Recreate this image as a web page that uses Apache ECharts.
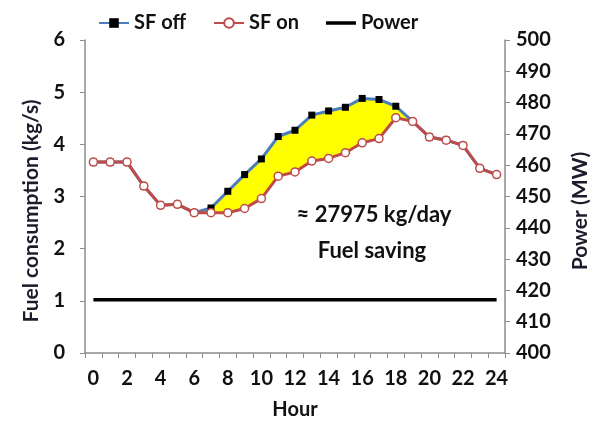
<!DOCTYPE html>
<html>
<head>
    <meta charset="UTF-8">
    <title>Fuel consumption</title>
    <script src="https://cdn.jsdelivr.net/npm/echarts@6/dist/echarts.min.js"></script>
    <style>
        html, body { margin: 0; padding: 0; background: #fff; }
        #chart { width: 600px; height: 423px; }
    </style>
</head>
<body>
<div id="chart"></div>
<script>
    // hours 0..24
    var hours = ['0', '1', '2', '3', '4', '5', '6', '7', '8', '9', '10', '11', '12',
        '13', '14', '15', '16', '17', '18', '19', '20', '21', '22', '23', '24'];
    // fuel consumption without / with SF (kg/s)
    var sfOff = [3.66, 3.66, 3.66, 3.20, 2.83, 2.85, 2.69, 2.78, 3.10, 3.42, 3.72, 4.15, 4.27,
        4.56, 4.64, 4.71, 4.88, 4.86, 4.73, 4.44, 4.14, 4.08, 3.98, 3.54, 3.42];
    var sfOn = [3.66, 3.66, 3.66, 3.20, 2.83, 2.85, 2.69, 2.69, 2.69, 2.77, 2.96, 3.39, 3.47,
        3.68, 3.73, 3.84, 4.03, 4.11, 4.51, 4.44, 4.14, 4.08, 3.98, 3.54, 3.42];
    // power (MW)
    var power = [417, 417, 417, 417, 417, 417, 417, 417, 417, 417, 417, 417, 417,
        417, 417, 417, 417, 417, 417, 417, 417, 417, 417, 417, 417];
    var leftTicks = [0, 6, 1];      // min, max, interval
    var rightTicks = [400, 500, 10];

    // gap between the two curves -> yellow band
    var saving = sfOff.map(function (v, i) { return +(v - sfOn[i]).toFixed(3); });

    var FONT = 'Lato';
    var axisGray = '#8c8c8c';

    var myChart = echarts.init(document.getElementById('chart'));
    var option = {
        animation: false,
        textStyle: { fontFamily: FONT },
        legend: {
            data: ['SF off', 'SF on', {
                name: 'Power',
                icon: 'path://M0,0 L30,0 L30,3.5 L0,3.5 Z'
            }],
            left: 93,
            top: 8,
            itemWidth: 30,
            itemHeight: 12,
            itemGap: 27,
            textStyle: { fontSize: 20, fontWeight: 'bold', color: '#111', fontFamily: FONT }
        },
        grid: { left: 85, right: 95, top: 40, bottom: 70, outerBoundsMode: 'none', containLabel: false },
        xAxis: {
            type: 'category',
            data: hours,
            boundaryGap: true,
            name: 'Hour',
            nameLocation: 'middle',
            nameGap: 47,
            nameTextStyle: { fontSize: 20, fontWeight: 'bold', color: '#111' },
            axisLine: { lineStyle: { color: axisGray, width: 1.5 } },
            axisTick: { show: true, interval: 0, length: 5, lineStyle: { color: axisGray } },
            axisLabel: { interval: 1, fontSize: 20, fontWeight: 'bold', color: '#111', margin: 16 },
            splitLine: { show: false }
        },
        yAxis: [{
            type: 'value',
            min: leftTicks[0], max: leftTicks[1], interval: leftTicks[2],
            axisLine: { show: true, lineStyle: { color: axisGray, width: 1.5 } },
            axisTick: { show: true, length: 5, lineStyle: { color: axisGray } },
            axisLabel: { fontSize: 20, fontWeight: 'bold', color: '#111', margin: 20 },
            splitLine: { show: false }
        }, {
            type: 'value',
            position: 'right',
            min: rightTicks[0], max: rightTicks[1], interval: rightTicks[2],
            axisLine: { show: true, lineStyle: { color: axisGray, width: 1.5 } },
            axisTick: { show: true, length: 5, lineStyle: { color: axisGray } },
            axisLabel: { fontSize: 20, fontWeight: 'bold', color: '#111', margin: 11 },
            splitLine: { show: false }
        }],
        graphic: [{
            type: 'text', x: 31, y: 211, rotation: Math.PI / 2,
            style: { text: 'Fuel consumption (kg/s)', font: 'bold 21px Lato', fill: '#1c1c2c',
                textAlign: 'center', textVerticalAlign: 'middle' }
        }, {
            type: 'text', x: 580, y: 211, rotation: Math.PI / 2,
            style: { text: 'Power (MW)', font: 'bold 21px Lato', fill: '#1c1c2c',
                textAlign: 'center', textVerticalAlign: 'middle' }
        }, {
            type: 'text', x: 374, y: 215,
            style: { text: '\u2248 27975 kg/day', font: 'bold 22px Lato', fill: '#111',
                textAlign: 'center', textVerticalAlign: 'middle' }
        }, {
            type: 'text', x: 372, y: 251,
            style: { text: 'Fuel saving', font: 'bold 22px Lato', fill: '#111',
                textAlign: 'center', textVerticalAlign: 'middle' }
        }],
        series: [{
            // invisible base for the yellow band
            name: 'base',
            type: 'line',
            data: sfOn,
            stack: 'band',
            symbol: 'none',
            lineStyle: { opacity: 0 },
            silent: true,
            z: 1
        }, {
            name: 'saving',
            type: 'line',
            data: saving,
            stack: 'band',
            symbol: 'none',
            lineStyle: { opacity: 0 },
            areaStyle: { color: '#ffff00', opacity: 1 },
            silent: true,
            z: 1
        }, {
            name: 'Power',
            type: 'line',
            yAxisIndex: 1,
            data: power,
            symbol: 'none',
            itemStyle: { color: '#000' },
            lineStyle: { color: '#000', width: 3.5 },
            z: 2
        }, {
            name: 'SF off',
            type: 'line',
            data: sfOff,
            symbol: 'rect',
            symbolSize: 7,
            itemStyle: { color: '#000', borderColor: '#000', borderWidth: 0 },
            lineStyle: { color: '#4a7ebb', width: 3 },
            z: 3
        }, {
            name: 'SF on',
            type: 'line',
            data: sfOn,
            symbol: 'circle',
            symbolSize: 8,
            itemStyle: { color: '#fff', borderColor: '#be4b48', borderWidth: 1.5 },
            lineStyle: { color: '#be4b48', width: 3 },
            z: 4
        }]
    };
    myChart.setOption(option);
</script>
</body>
</html>
